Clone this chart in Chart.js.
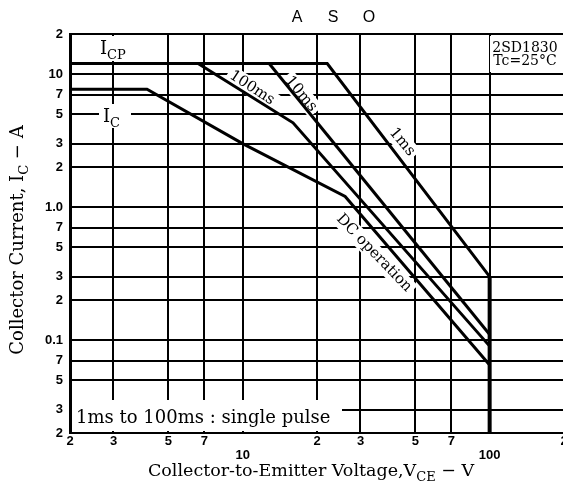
<!DOCTYPE html>
<html>
<head>
<meta charset="utf-8">
<script src="https://cdn.jsdelivr.net/npm/chart.js@4/dist/chart.umd.min.js"></script>
<style>
  html, body { margin: 0; padding: 0; background: #fff; overflow: hidden; }
</style>
</head>
<body>
<canvas id="asoChart" width="580" height="489"></canvas>
<script>
// axis ticks (log-log)
const xTicks = [2, 3, 5, 7, 10, 20, 30, 50, 70, 100, 200];
const xTickLabels = ['2', '3', '5', '7', ['', '10'], '2', '3', '5', '7', ['', '100'], '2'];
const yTicks = [0.02, 0.03, 0.05, 0.07, 0.1, 0.2, 0.3, 0.5, 0.7, 1, 2, 3, 5, 7, 10, 20];
const yTickLabels = ['2', '3', '5', '7', '0.1', '2', '3', '5', '7', '1.0', '2', '3', '5', '7', '10', '2'];

// safe operating area boundaries, V_CE (V) vs I_C (A)
const vce1ms = [2, 22, 100];
const ic1ms = [12, 12, 0.3];
const vce10ms = [12.8, 100];
const ic10ms = [12, 0.11];
const vce100ms = [6.6, 16, 100];
const ic100ms = [12, 4.3, 0.09];
const vceDC = [2, 4.1, 10, 26, 100];
const icDC = [7.7, 7.7, 3, 1.2, 0.065];
const vceMax = [100, 100];
const icMax = [0.3, 0.02];

const toPoints = (xs, ys) => xs.map((x, i) => ({ x: x, y: ys[i] }));

const SERIF = '"DejaVu Serif", "Liberation Serif", serif';
const TICK_FONT = '"Liberation Sans", Arial, sans-serif';

// draws text with subscript parts: segs = [[text, isSub], ...]
function richText(ctx, segs, x, y, size, align) {
  const subSize = Math.round(size * 0.72);
  let total = 0;
  segs.forEach(s => {
    ctx.font = (s[1] ? subSize : size) + 'px ' + SERIF;
    total += ctx.measureText(s[0]).width;
  });
  let cx = align === 'center' ? x - total / 2 : x;
  ctx.textAlign = 'left';
  ctx.textBaseline = 'alphabetic';
  segs.forEach(s => {
    ctx.font = (s[1] ? subSize : size) + 'px ' + SERIF;
    ctx.fillText(s[0], cx, s[1] ? y + size * 0.28 : y);
    cx += ctx.measureText(s[0]).width;
  });
}

function rotLabel(ctx, text, x, y, deg, size) {
  ctx.save();
  ctx.translate(x, y);
  ctx.rotate(deg * Math.PI / 180);
  ctx.font = size + 'px ' + SERIF;
  const w = ctx.measureText(text).width;
  ctx.fillStyle = '#fff';
  ctx.fillRect(-w / 2 - 3, -size * 0.6, w + 6, size * 1.2);
  ctx.fillStyle = '#000';
  ctx.textAlign = 'center';
  ctx.textBaseline = 'middle';
  ctx.fillText(text, 0, 0);
  ctx.restore();
}

const asoLabels = {
  id: 'asoLabels',
  beforeDatasetsDraw(chart) {
    const ctx = chart.ctx;
    ctx.save();
    ctx.fillStyle = '#fff';
    // label boxes hiding grid
    ctx.fillRect(95, 36, 46, 25);      // I_CP
    ctx.fillRect(99, 104, 32, 24);     // I_C
    ctx.fillRect(490, 36, 80, 36);     // part number
    ctx.fillRect(72, 400, 270, 31);    // pulse note
    ctx.fillStyle = '#000';

    richText(ctx, [['I', false], ['CP', true]], 100, 54, 18, 'left');
    richText(ctx, [['I', false], ['C', true]], 103, 122, 18, 'left');

    ctx.font = '14px ' + SERIF;
    ctx.textAlign = 'center';
    ctx.textBaseline = 'alphabetic';
    ctx.fillText('2SD1830', 525, 52);
    ctx.fillText('Tc=25\u00B0C', 525, 65);

    ctx.font = '18px ' + SERIF;
    ctx.textAlign = 'left';
    ctx.fillText('1ms to 100ms : single pulse', 76, 423);

    rotLabel(ctx, '100ms', 252, 88, 33, 15);
    rotLabel(ctx, '10ms', 301, 94, 50, 15);
    rotLabel(ctx, '1ms', 402, 142, 50, 15);
    rotLabel(ctx, 'DC operation', 374, 253, 46, 15);
    ctx.restore();
  },
  afterDraw(chart) {
    const ctx = chart.ctx;
    ctx.save();
    ctx.fillStyle = '#000';
    ctx.font = '16px "Liberation Sans", Arial, sans-serif';
    ctx.textAlign = 'center';
    ctx.textBaseline = 'middle';
    ctx.fillText('A', 297, 18);
    ctx.fillText('S', 333, 18);
    ctx.fillText('O', 369, 18);

    richText(ctx, [['Collector-to-Emitter Voltage,V', false], ['CE', true], [' \u2212 V', false]], 311, 476, 17.5, 'center');

    ctx.translate(23, 240);
    ctx.rotate(-Math.PI / 2);
    richText(ctx, [['Collector Current, I', false], ['C', true], [' \u2212 A', false]], 0, 0, 18, 'center');
    ctx.restore();
  }
};

const lineStyle = {
  showLine: true,
  borderColor: '#000',
  borderWidth: 3,
  pointRadius: 0,
  fill: false
};

new Chart(document.getElementById('asoChart'), {
  type: 'scatter',
  data: {
    datasets: [
      { ...lineStyle, label: '1ms', data: toPoints(vce1ms, ic1ms) },
      { ...lineStyle, label: '10ms', data: toPoints(vce10ms, ic10ms) },
      { ...lineStyle, label: '100ms', data: toPoints(vce100ms, ic100ms) },
      { ...lineStyle, label: 'DC', data: toPoints(vceDC, icDC) },
      { ...lineStyle, label: 'VCEO', borderWidth: 4, data: toPoints(vceMax, icMax) }
    ]
  },
  options: {
    responsive: false,
    animation: false,
    devicePixelRatio: 1,
    layout: { padding: { top: 34, right: 16, left: 0, bottom: 0 } },
    plugins: {
      legend: { display: false },
      tooltip: { enabled: false }
    },
    scales: {
      x: {
        type: 'logarithmic',
        min: 2,
        max: 200,
        afterBuildTicks: scale => { scale.ticks = xTicks.map(v => ({ value: v })); },
        afterFit: scale => { scale.height = 56; },
        ticks: {
          autoSkip: false,
          maxRotation: 0,
          padding: 1,
          color: '#000',
          font: { family: TICK_FONT, size: 13, weight: 'bold', lineHeight: 1.1 },
          callback: (v, i) => xTickLabels[i]
        },
        grid: { color: '#000', lineWidth: 2, drawTicks: false },
        border: { display: false }
      },
      y: {
        type: 'logarithmic',
        min: 0.02,
        max: 20,
        afterBuildTicks: scale => { scale.ticks = yTicks.map(v => ({ value: v })); },
        afterFit: scale => { scale.width = 70; },
        ticks: {
          autoSkip: false,
          padding: 7,
          color: '#000',
          font: { family: TICK_FONT, size: 13, weight: 'bold' },
          callback: (v, i) => yTickLabels[i]
        },
        grid: { color: '#000', lineWidth: 2, drawTicks: false },
        border: { display: true, color: '#000', width: 3 }
      }
    }
  },
  plugins: [asoLabels]
});
</script>
</body>
</html>
